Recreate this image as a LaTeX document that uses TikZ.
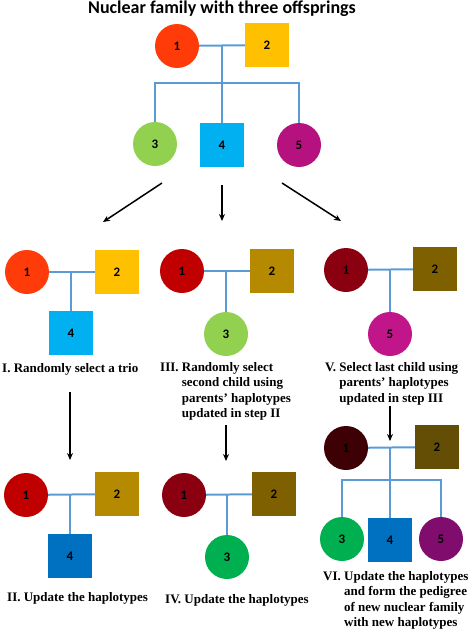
\documentclass[tikz,border=0pt]{standalone}
\usepackage{fontspec}
\setmainfont{Liberation Serif}
\newfontfamily\numfont{Carlito}
\usetikzlibrary{arrows.meta}
\definecolor{cA}{HTML}{FF3B0A}
\definecolor{cB}{HTML}{FFC000}
\definecolor{cC}{HTML}{92D050}
\definecolor{cD}{HTML}{00B0F0}
\definecolor{cE}{HTML}{B5127F}
\definecolor{cF}{HTML}{C00000}
\definecolor{cG}{HTML}{B58A00}
\definecolor{cH}{HTML}{8A0010}
\definecolor{cI}{HTML}{7F6000}
\definecolor{cJ}{HTML}{C0168A}
\definecolor{cK}{HTML}{0070C0}
\definecolor{cL}{HTML}{00B050}
\definecolor{cM}{HTML}{3D0004}
\definecolor{cN}{HTML}{644E05}
\definecolor{cO}{HTML}{800D6E}
\definecolor{link}{HTML}{5B9BD5}
\tikzset{
  fem/.style={circle,minimum size=44pt,inner sep=0pt,fill=#1,font=\numfont\bfseries\fontsize{13}{15}\selectfont},
  mal/.style={rectangle,minimum size=44pt,inner sep=0pt,fill=#1,font=\numfont\bfseries\fontsize{13}{15}\selectfont},
  rel/.style={draw=link,line width=2pt},
  flow/.style={draw=black,line width=1.5pt,-{Stealth[length=7pt,width=6pt]}},
  lbl/.style={font=\bfseries\fontsize{13}{15.5}\selectfont,inner sep=0pt}
}
\begin{document}
\begin{tikzpicture}[x=1pt,y=-1pt]
\useasboundingbox (0,0) rectangle (472,632);
% title
\node[font=\numfont\bfseries\fontsize{18}{20}\selectfont,inner sep=0pt] (title) at (222,9) {Nuclear family with three offsprings};
% top family
\node[fem=cA] (t1) at (177,46) {1};
\node[mal=cB] (t2) at (267,45) {2};
\node[fem=cC] (t3) at (155,144) {3};
\node[mal=cD] (t4) at (222,145) {4};
\node[fem=cE] (t5) at (299,145) {5};
\coordinate (tj) at (222,46);
\coordinate (tb) at (222,83);
\draw[rel] (t1) -- (t2);
\draw[rel] (tj) -- (t4.north);
\draw[rel] (t3.north) -- (t3.north |- tb) -- (t5.north |- tb) -- (t5.north);
% arrows from top
\coordinate (a1s) at (162,183); \coordinate (a1e) at (103,222);
\coordinate (a2s) at (222,185); \coordinate (a2e) at (222,221);
\coordinate (a3s) at (282,183); \coordinate (a3e) at (341,221);
\draw[flow] (a1s) -- (a1e);
\draw[flow] (a2s) -- (a2e);
\draw[flow] (a3s) -- (a3e);
% row 2 left
\node[fem=cA] (p1) at (27,272) {1};
\node[mal=cB] (p2) at (117,272) {2};
\node[mal=cD] (p4) at (71,333) {4};
\coordinate (pj) at (71,272);
\draw[rel] (p1) -- (p2);
\draw[rel] (pj) -- (p4.north);
\node[lbl,anchor=west] (pl) at (2,369) {I. Randomly select a trio};
% row 2 middle
\node[fem=cF] (q1) at (182,271) {1};
\node[mal=cG] (q2) at (272,271) {2};
\node[fem=cC] (q3) at (226,334) {3};
\coordinate (qj) at (226,271);
\draw[rel] (q1) -- (q2);
\draw[rel] (qj) -- (q3.north);
\node[lbl,anchor=north west,align=left] (ql) at (160,360) {\begin{tabular}{@{}l@{\ }l@{}}III. & Randomly select\\ & second child using\\ & parents’ haplotypes\\ & updated in step II\end{tabular}};
% row 2 right
\node[fem=cH] (r1) at (346,270) {1};
\node[mal=cI] (r2) at (435,269) {2};
\node[fem=cJ] (r5) at (390,334) {5};
\coordinate (rj) at (390,270);
\draw[rel] (r1) -- (r2);
\draw[rel] (rj) -- (r5.north);
\node[lbl,anchor=north west,align=left] (rl) at (325,360) {\begin{tabular}{@{}l@{\ }l@{}}V. & Select last child using\\ & parents’ haplotypes\\ & updated in step III\end{tabular}};
% down arrows
\coordinate (d1s) at (70,392); \coordinate (d1e) at (70,460);
\coordinate (d2s) at (226,425); \coordinate (d2e) at (226,461);
\coordinate (d3s) at (390,406); \coordinate (d3e) at (390,441);
\draw[flow] (d1s) -- (d1e);
\draw[flow] (d2s) -- (d2e);
\draw[flow] (d3s) -- (d3e);
% row 3 left
\node[fem=cF] (u1) at (26,495) {1};
\node[mal=cG] (u2) at (117,494) {2};
\node[mal=cK] (u4) at (70,556) {4};
\coordinate (uj) at (70,495);
\draw[rel] (u1) -- (u2);
\draw[rel] (uj) -- (u4.north);
\node[lbl,anchor=west] (ul) at (7,598) {II. Update the haplotypes};
% row 3 middle
\node[fem=cH] (v1) at (184,495) {1};
\node[mal=cI] (v2) at (274,494) {2};
\node[fem=cL] (v3) at (227,557) {3};
\coordinate (vj) at (227,494);
\draw[rel] (v1) -- (v2);
\draw[rel] (vj) -- (v3.north);
\node[lbl,anchor=west] (vl) at (165,600) {IV. Update the haplotypes};
% row 3 right
\node[fem=cM] (w1) at (346,448) {1};
\node[mal=cN] (w2) at (437,447) {2};
\node[fem=cL] (w3) at (342,539) {3};
\node[mal=cK] (w4) at (390,540) {4};
\node[fem=cO] (w5) at (441,539) {5};
\coordinate (wj) at (390,448);
\coordinate (wb) at (390,480);
\draw[rel] (w1) -- (w2);
\draw[rel] (wj) -- (w4.north);
\draw[rel] (w3.north) -- (w3.north |- wb) -- (w5.north |- wb) -- (w5.north);
\node[lbl,anchor=north west,align=left] (wl) at (323,569) {\begin{tabular}{@{}l@{\ }l@{}}VI. & Update the haplotypes\\ & and form the pedigree\\ & of new nuclear family\\ & with new haplotypes\end{tabular}};
\end{tikzpicture}
\end{document}
